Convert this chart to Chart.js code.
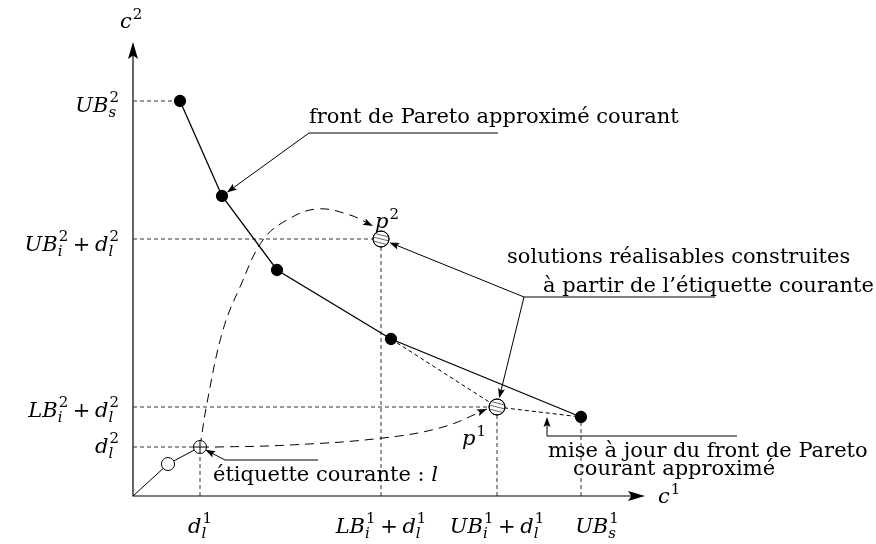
<!DOCTYPE html>
<html>
<head>
<meta charset="utf-8">
<script src="https://cdn.jsdelivr.net/npm/chart.js@4.4.1/dist/chart.umd.min.js"></script>
<style>
  html, body { margin: 0; background: #fff; }
  #wrap { width: 876px; height: 544px; }
</style>
</head>
<body>
<div id="wrap"><canvas id="myCanvas"></canvas></div>
<script>
'use strict';

// current approximated Pareto front (c1, c2)
const frontC1 = [47, 89, 144, 258, 448];
const frontC2 = [395, 300, 226, 157, 79];

// path of the current label: origin, previous label, current label l
const labelC1 = [0, 35, 67];
const labelC2 = [0, 32, 49];

// feasible solutions built from l: p2 then p1
const solC1 = [248, 364];
const solC2 = [257, 89];

// dashed arcs l -> p2 and l -> p1
const arcP2C1 = [67, 74, 90, 107, 130, 154, 184, 217, 240];
const arcP2C2 = [49, 93, 166, 209, 256, 276, 287, 281, 270];
const arcP1C1 = [67, 84, 157, 250, 310, 354];
const arcP1C2 = [49, 49, 51, 58, 69, 87];

// axis ticks
const xTickValues = [67, 248, 364, 448];
const xTickLabels = ['d_l^1', 'LB_i^1 + d_l^1', 'UB_i^1 + d_l^1', 'UB_s^1'];
const yTickValues = [395, 257, 89, 49];
const yTickLabels = ['UB_s^2', 'UB_i^2 + d_l^2', 'LB_i^2 + d_l^2', 'd_l^2'];

const SERIF = '"DejaVu Serif", "Liberation Serif", serif';
const TEXT_SIZE = 21;
const INK = '#000';

// layout of the notes (same units as the data)
const axisEnds = { c1: 512, c2: 454 };
const notes = [
  { text: 'front de Pareto approximé courant', x: 176, y: 373 },
  { text: 'solutions réalisables construites', x: 374, y: 233 },
  { text: 'à partir de l’étiquette courante', x: 410, y: 204 },
  { text: 'mise à jour du front de Pareto', x: 415, y: 39 },
  { text: 'courant approximé', x: 440, y: 21 },
  { text: 'étiquette courante : ', math: 'l', x: 80, y: 15 }
];
const mathNotes = [
  { math: 'p^2', x: 242, y: 268 },
  { math: 'p^1', x: 329, y: 51 },
  { math: 'c^2', x: -13, y: 468 },
  { math: 'c^1', x: 525, y: -7 }
];
const leaders = [
  { path: [[365, 363], [176, 363]], target: [frontC1[1], frontC2[1]], gap: 6 },
  { path: [[582, 199], [391, 199]], target: [solC1[0], solC2[0]], gap: 9 },
  { path: [[391, 199]], target: [solC1[1], solC2[1]], gap: 9 },
  { path: [[604, 60], [414, 60]], target: [414, 79], gap: 0 },
  { path: [[185, 36], [92, 36]], target: [labelC1[2], labelC2[2]], gap: 6 }
];
const yLabelBaseline = [11, 12, 10, 6];
const xLabelShift = [0, 0, 0, 16];

const pts = (xs, ys) => xs.map((x, i) => ({ x: x, y: ys[i] }));

// dashed guides from the axes to the points
const guidePoints = [
  { x: frontC1[0], y: frontC2[0], h: true, v: false },
  { x: solC1[0], y: solC2[0], h: true, v: true },
  { x: solC1[1], y: solC2[1], h: true, v: true },
  { x: labelC1[2], y: labelC2[2], h: true, v: true },
  { x: frontC1[4], y: frontC2[4], h: false, v: true }
];
const guideSets = [];
guidePoints.forEach(g => {
  if (g.h) guideSets.push([{ x: 0, y: g.y }, { x: g.x, y: g.y }]);
  if (g.v) guideSets.push([{ x: g.x, y: 0 }, { x: g.x, y: g.y }]);
});

// ---- math text helpers ----
function mathItems(str) {
  const items = [];
  for (let i = 0; i < str.length; i++) {
    const ch = str[i];
    if (ch === '_' || ch === '^') {
      items[items.length - 1][ch === '_' ? 'sub' : 'sup'] = str[++i];
    } else {
      items.push({ ch: ch });
    }
  }
  return items;
}
function glyphFont(ch, size) {
  return (/[A-Za-z]/.test(ch) ? 'italic ' : '') + size + 'px ' + SERIF;
}
function measureMath(c, str, size) {
  const items = mathItems(str);
  const small = Math.round(size * 0.7);
  let w = 0;
  items.forEach(it => {
    if (it.ch === ' ') {
      it.w = size * 0.22;
    } else {
      c.font = glyphFont(it.ch, size);
      it.w = c.measureText(it.ch).width;
    }
    let sw = 0;
    if (it.sup) { c.font = glyphFont(it.sup, small); sw = Math.max(sw, c.measureText(it.sup).width + 1); }
    if (it.sub) { c.font = glyphFont(it.sub, small); sw = Math.max(sw, c.measureText(it.sub).width); }
    it.x = w;
    w += it.w + sw;
  });
  return { items: items, width: w, small: small };
}
function drawMath(c, str, x, y, size, align) {
  const m = measureMath(c, str, size);
  const x0 = align === 'right' ? x - m.width : align === 'center' ? x - m.width / 2 : x;
  c.textAlign = 'left';
  c.textBaseline = 'alphabetic';
  c.fillStyle = INK;
  m.items.forEach(it => {
    if (it.ch !== ' ') {
      c.font = glyphFont(it.ch, size);
      c.fillText(it.ch, x0 + it.x, y);
    }
    const sx = x0 + it.x + it.w;
    if (it.sup) {
      c.font = glyphFont(it.sup, m.small);
      c.fillText(it.sup, sx + 1, y - size * (it.sub ? 0.5 : 0.45));
    }
    if (it.sub) {
      c.font = glyphFont(it.sub, m.small);
      c.fillText(it.sub, sx, y + size * 0.24);
    }
  });
  return m.width;
}

function arrowHead(c, tx, ty, fx, fy, len, half) {
  const a = Math.atan2(ty - fy, tx - fx);
  c.save();
  c.translate(tx, ty);
  c.rotate(a);
  c.beginPath();
  c.moveTo(0, 0);
  c.lineTo(-len, -half);
  c.lineTo(-len * 0.8, 0);
  c.lineTo(-len, half);
  c.closePath();
  c.fillStyle = INK;
  c.fill();
  c.restore();
}

const diagramPlugin = {
  id: 'diagram',
  beforeDatasetsDraw(chart) {
    const c = chart.ctx;
    const xs = chart.scales.x, ys = chart.scales.y;
    const ox = xs.getPixelForValue(0), oy = ys.getPixelForValue(0);
    const tx = xs.getPixelForValue(axisEnds.c1), ty = ys.getPixelForValue(axisEnds.c2);
    c.save();
    c.strokeStyle = INK;
    c.lineWidth = 1.2;
    c.beginPath();
    c.moveTo(ox, ty + 12);
    c.lineTo(ox, oy);
    c.lineTo(tx - 12, oy);
    c.stroke();
    arrowHead(c, ox, ty, ox, oy, 17, 5);
    arrowHead(c, tx, oy, ox, oy, 17, 5);
    c.restore();
  },
  afterDatasetsDraw(chart) {
    const c = chart.ctx;
    const xs = chart.scales.x, ys = chart.scales.y;
    const px = v => xs.getPixelForValue(v);
    const py = v => ys.getPixelForValue(v);
    c.save();

    // hatching inside the new solutions
    chart.getDatasetMeta(0).data.forEach(p => {
      const r = 8;
      c.save();
      c.beginPath();
      c.arc(p.x, p.y, r, 0, Math.PI * 2);
      c.clip();
      c.strokeStyle = '#555';
      c.lineWidth = 0.9;
      [-4, 0, 4].forEach(d => {
        c.beginPath();
        c.moveTo(p.x - r, p.y + d - 2);
        c.lineTo(p.x + r, p.y + d + 2);
        c.stroke();
      });
      c.restore();
      c.beginPath();
      c.arc(p.x, p.y, r, 0, Math.PI * 2);
      c.strokeStyle = INK;
      c.lineWidth = 1;
      c.stroke();
    });

    // arrow heads on the dashed arcs
    [5, 6].forEach(i => {
      const d = chart.getDatasetMeta(i).data;
      const last = d[d.length - 1];
      const fx = last.cp1x !== undefined ? last.cp1x : d[d.length - 2].x;
      const fy = last.cp1y !== undefined ? last.cp1y : d[d.length - 2].y;
      arrowHead(c, last.x, last.y, fx, fy, 10, 3.5);
    });

    // leader lines
    c.strokeStyle = INK;
    c.lineWidth = 1;
    leaders.forEach(l => {
      const path = l.path.map(p => [px(p[0]), py(p[1])]);
      const tgt = [px(l.target[0]), py(l.target[1])];
      const from = path[path.length - 1];
      const dx = tgt[0] - from[0], dy = tgt[1] - from[1];
      const len = Math.hypot(dx, dy);
      const tip = [tgt[0] - dx / len * l.gap, tgt[1] - dy / len * l.gap];
      c.beginPath();
      c.moveTo(path[0][0], path[0][1]);
      path.slice(1).forEach(p => c.lineTo(p[0], p[1]));
      c.lineTo(tip[0] - dx / len * 6, tip[1] - dy / len * 6);
      c.stroke();
      arrowHead(c, tip[0], tip[1], from[0], from[1], 10, 3.5);
    });

    // notes
    c.fillStyle = INK;
    c.textAlign = 'left';
    c.textBaseline = 'alphabetic';
    notes.forEach(n => {
      c.font = TEXT_SIZE + 'px ' + SERIF;
      c.fillText(n.text, px(n.x), py(n.y));
      if (n.math) {
        const w = c.measureText(n.text).width;
        drawMath(c, n.math, px(n.x) + w, py(n.y), TEXT_SIZE, 'left');
      }
    });
    mathNotes.forEach(n => drawMath(c, n.math, px(n.x), py(n.y), TEXT_SIZE, 'left'));

    // tick labels
    yTickValues.forEach((v, i) => {
      drawMath(c, yTickLabels[i], px(0) - 14, py(v) + yLabelBaseline[i], TEXT_SIZE, 'right');
    });
    xTickValues.forEach((v, i) => {
      drawMath(c, xTickLabels[i], px(v) + xLabelShift[i], py(0) + 37, TEXT_SIZE, 'center');
    });
    c.restore();
  }
};

const datasets = [
  { label: 'solutions', data: pts(solC1, solC2), showLine: false, pointRadius: 8,
    pointBackgroundColor: '#fff', pointBorderColor: INK, pointBorderWidth: 1 },
  { label: 'current label', data: [{ x: labelC1[2], y: labelC2[2] }], showLine: false,
    pointStyle: 'cross', pointRadius: 6.5, pointBorderColor: INK, pointBorderWidth: 1 },
  { label: 'label path', data: pts(labelC1, labelC2), showLine: true, borderColor: INK, borderWidth: 1,
    pointRadius: [0, 6.5, 6.5], pointBackgroundColor: '#fff', pointBorderColor: INK, pointBorderWidth: 1 },
  { label: 'front', data: pts(frontC1, frontC2), showLine: true, borderColor: INK, borderWidth: 1.3,
    pointRadius: 5.5, pointBackgroundColor: INK, pointBorderColor: INK },
  { label: 'updated front',
    data: [{ x: frontC1[3], y: frontC2[3] }, { x: solC1[1], y: solC2[1] }, { x: frontC1[4], y: frontC2[4] }],
    showLine: true, borderColor: INK, borderWidth: 1, borderDash: [4, 3], pointRadius: 0 },
  { label: 'arc p2', data: pts(arcP2C1, arcP2C2), showLine: true, borderColor: INK, borderWidth: 1,
    borderDash: [9, 6], tension: 0.4, pointRadius: 0 },
  { label: 'arc p1', data: pts(arcP1C1, arcP1C2), showLine: true, borderColor: INK, borderWidth: 1,
    borderDash: [9, 6], tension: 0.4, pointRadius: 0 }
].concat(guideSets.map(g => ({
  label: 'guide', data: g, showLine: true, borderColor: '#333', borderWidth: 1,
  borderDash: [4, 3], pointRadius: 0
})));

const canvasEl = document.getElementById('myCanvas');
const ctx = canvasEl.getContext('2d');

const diagram = new Chart(ctx, {
  type: 'scatter',
  data: { datasets: datasets },
  options: {
    responsive: true,
    maintainAspectRatio: false,
    animation: false,
    events: [],
    layout: { padding: 0, autoPadding: false },
    plugins: { legend: { display: false }, tooltip: { enabled: false } },
    scales: {
      x: { type: 'linear', min: -133, max: 743, display: false },
      y: { type: 'linear', min: -48, max: 496, display: false }
    }
  },
  plugins: [diagramPlugin]
});
</script>
</body>
</html>
